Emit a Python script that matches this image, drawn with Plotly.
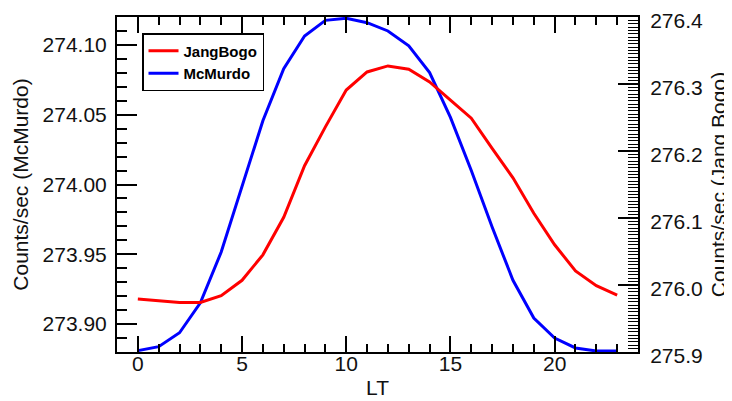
import plotly.graph_objects as go

# Local time (hours)
lt = list(range(24))

# Counts/sec, Jang Bogo (right axis)
jangbogo = [275.979, 275.977, 275.974, 275.974, 275.984, 276.007, 276.045, 276.101,
            276.178, 276.236, 276.291, 276.318, 276.327, 276.322, 276.303, 276.276,
            276.249, 276.204, 276.160, 276.107, 276.060, 276.021, 275.999, 275.985]

# Counts/sec, McMurdo (left axis)
mcmurdo = [273.881, 273.8838, 273.8938, 273.9152, 273.9516, 273.9993, 274.0457, 274.0829,
           274.1064, 274.1176, 274.1191, 274.1159, 274.110, 274.0993, 274.0802, 274.0481,
           274.010, 273.9695, 273.9314, 273.9043, 273.890, 273.8829, 273.8807, 273.8807]

x_range = [-1, 24]
left_range = [273.88, 274.12]
right_range = [275.9, 276.4]

FONT = "Arial, Liberation Sans, sans-serif"
INK = "#111111"

fig = go.Figure()
fig.add_trace(go.Scatter(x=lt, y=jangbogo, name="JangBogo", mode="lines",
                         line=dict(color="#ff0000", width=3), yaxis="y2"))
fig.add_trace(go.Scatter(x=lt, y=mcmurdo, name="McMurdo", mode="lines",
                         line=dict(color="#0000ff", width=3), yaxis="y"))

# the page body has an 8px default margin, so the figure is sized/offset to compensate
fig.update_layout(
    width=724, height=393,
    margin=dict(l=109, r=94, t=9, b=49, autoexpand=False),
    paper_bgcolor="white", plot_bgcolor="white",
    font=dict(family=FONT, size=21, color=INK),
    showlegend=True,
    legend=dict(x=0.048, y=0.952, xanchor="left", yanchor="top",
                bgcolor="white", bordercolor="black", borderwidth=1.5,
                font=dict(family=FONT, size=15, color="black", weight="bold"),
                tracegroupgap=0),
    xaxis=dict(range=x_range, dtick=5, tick0=0, ticks="inside", ticklen=16, tickwidth=1.8,
               tickcolor="black", showline=True, linecolor="black", linewidth=2,
               mirror="ticks", showgrid=False, zeroline=False, automargin=False,
               ticklabelstandoff=-8,
               minor=dict(dtick=1, tick0=0, ticks="inside", ticklen=8, tickwidth=1.8,
                          tickcolor="black", showgrid=False),
               title=dict(text="LT", standoff=6, font=dict(size=21)),
               tickfont=dict(size=21)),
    yaxis=dict(range=left_range, dtick=0.05, tick0=273.9, tickformat=".2f",
               ticks="inside", ticklen=20, tickwidth=1.8, tickcolor="black",
               showline=True, linecolor="black", linewidth=2, mirror=False,
               showgrid=False, zeroline=False, ticklabelstandoff=4, automargin=False,
               ticklabeloverflow="allow",
               minor=dict(dtick=0.01, tick0=273.9, ticks="inside", ticklen=10, tickwidth=1.8,
                          tickcolor="black", showgrid=False),
               title=dict(text="Counts/sec (McMurdo)", standoff=8, font=dict(size=21)),
               tickfont=dict(size=21)),
    yaxis2=dict(range=right_range, dtick=0.1, tick0=275.9, tickformat=".1f",
                overlaying="y", side="right", anchor="x", automargin=False,
                ticks="inside", ticklen=20, tickwidth=1.8, tickcolor="black",
                showline=True, linecolor="black", linewidth=2,
                showgrid=False, zeroline=False, ticklabelstandoff=6,
                ticklabeloverflow="allow", ticklabelshift=4,
                minor=dict(dtick=0.005, tick0=275.9, ticks="inside", ticklen=10, tickwidth=1.4,
                           tickcolor="black", showgrid=False),
                title=dict(text="Counts/sec (Jang Bogo)", standoff=9, font=dict(size=21)),
                tickfont=dict(size=21)),
)

fig.write_html("out.html")
